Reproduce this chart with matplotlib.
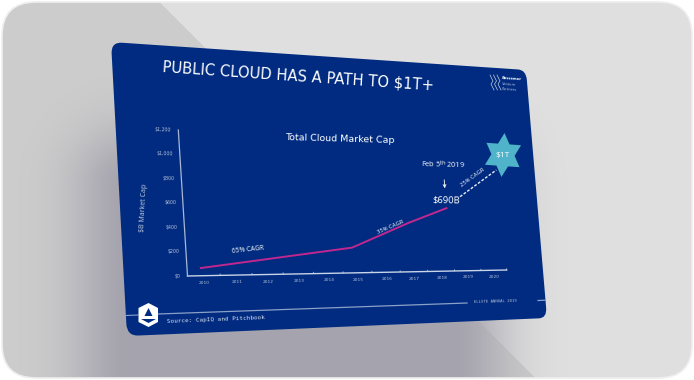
import numpy as np
import matplotlib
matplotlib.use('Agg')
import matplotlib.pyplot as plt
from matplotlib.patches import FancyBboxPatch, Polygon
from matplotlib.transforms import Transform, Affine2D
from matplotlib.path import Path

# chart data
years = [2010, 2011, 2012, 2013, 2014, 2015, 2016, 2017, 2018, 2019, 2020]
year_labels = ['2010', '2011', '2012', '2013', '2014', '2015', '2016', '2017', '2018', '2019', '2020']
line_years = [2009.92, 2014.87, 2016.93, 2018.38]
line_values = [63, 220, 437, 573]
dash_years = [2018.93, 2020.42]
dash_values = [680, 935]
y_ticks = [0, 200, 400, 600, 800, 1000, 1200]
y_labels = ['$0', '$200', '$400', '$600', '$800', '$1,000', '$1,200']

NAVY = '#002b80'
PINK = '#c0288f'
TEAL = '#4fb3c9'
DIM = '#b4c1da'


def homography(src, dst):
    a = []
    b = []
    for (x, y), (u, v) in zip(src, dst):
        a.append([x, y, 1, 0, 0, 0, -u * x, -u * y])
        a.append([0, 0, 0, x, y, 1, -v * x, -v * y])
        b += [u, v]
    h = np.linalg.solve(np.array(a, float), np.array(b, float))
    return np.append(h, 1).reshape(3, 3)


class Warp(Transform):
    input_dims = 2
    output_dims = 2

    def __init__(self, m):
        super().__init__()
        self.m = m

    def transform_non_affine(self, pts):
        pts = np.asarray(pts, float)
        p = np.c_[pts, np.ones(len(pts))] @ self.m.T
        return p[:, :2] / p[:, 2:]

    def transform_path_non_affine(self, path):
        return Path(self.transform_non_affine(path.vertices), path.codes)


fig = plt.figure(figsize=(6.94, 3.8), dpi=100)
fig.patch.set_facecolor('white')
ax = fig.add_axes([0, 0, 1, 1])
ax.axis('off')

# background card: two greys split by a diagonal, soft shadow under the slide
xx, yy = np.meshgrid(np.arange(694) + 0.5, np.arange(380) + 0.5)
left = (xx - 158) < (yy * 1.0)
bg = np.where(left[..., None], np.array([205, 205, 205.]), np.array([224, 224, 224.]))
dx = np.maximum(np.maximum(130 - xx, xx - 450), 0)
dy = np.maximum(np.maximum(185 - yy, yy - 420), 0)
d = np.hypot(dx, dy)
alpha = np.exp(-(d / 58) ** 2)[..., None]
img = bg * (1 - alpha) + np.array([165, 164, 174.]) * alpha
im = ax.imshow(img / 255, extent=(0, 694, 380, 0), aspect='auto', zorder=1)
card = FancyBboxPatch((2, 2), 690, 376, boxstyle='round,pad=0,rounding_size=34',
                      fc='none', ec='#eeeeee', lw=1.2, zorder=1.5, transform=ax.transData)
ax.add_patch(card)
im.set_clip_path(card)
ax.set_xlim(0, 694)
ax.set_ylim(380, 0)

# slide, 960x540 warped to the picture
slide_h = homography([(0, 0), (960, 0), (960, 540), (0, 540)],
                     [(111, 42), (526, 70), (547, 318), (127, 336)])
slide_tr = Warp(slide_h) + ax.transData
ax.add_patch(FancyBboxPatch((0, 0), 960, 540, boxstyle='round,pad=0,rounding_size=22',
                            fc=NAVY, ec='none', transform=slide_tr, zorder=2))

# chart area warped: data coordinates to picture pixels
chart_h = homography([(2009.5, 0), (2020.5, 0), (2020.5, 1200), (2009.5, 1200)],
                     [(187.5, 276), (506.7, 270), (496, 142), (178.3, 130)])
data_tr = Warp(chart_h) + ax.transData
to_px = Warp(chart_h)


def angle_at(x, y, dx=0.5):
    p = to_px.transform_non_affine(np.array([[x - dx, y], [x + dx, y]]))
    d = p[1] - p[0]
    return -np.degrees(np.arctan2(d[1], d[0]))


# axes
ax.plot([2009.5, 2020.5], [0, 0], color='#c8d4e8', lw=1.0, transform=data_tr, zorder=3)
ax.plot([2009.5, 2009.5], [0, 1200], color='#a8b8d4', lw=0.9, transform=data_tr, zorder=3)
for y, lab in zip(y_ticks, y_labels):
    ax.text(2009.3, y, lab, color=DIM, fontsize=3.4, ha='right', va='center',
            rotation=angle_at(2010, y), rotation_mode='anchor', transform=data_tr, zorder=4)
for yr, lab in zip(years, year_labels):
    ax.plot([yr + 0.5, yr + 0.5], [0, 12], color='#c8d4e8', lw=0.5, transform=data_tr, zorder=3)
    ax.text(yr, -60, lab, color=DIM, fontsize=3.2, ha='center', va='center',
            rotation=angle_at(yr, 0), rotation_mode='anchor', transform=data_tr, zorder=4)

# series
ax.plot(line_years, line_values, color=PINK, lw=1.4, transform=data_tr, zorder=4)
ax.plot(dash_years, dash_values, color='#e8eef8', lw=1.0, ls=(0, (2, 1.2)), transform=data_tr, zorder=4)

# star
star = Polygon([(0, -1), (0.29, -0.5), (0.866, -0.5), (0.58, 0), (0.866, 0.5), (0.29, 0.5),
                (0, 1), (-0.29, 0.5), (-0.866, 0.5), (-0.58, 0), (-0.866, -0.5), (-0.29, -0.5)],
               fc=TEAL, ec='none', zorder=4,
               transform=Affine2D().scale(20, 22).rotate_deg(4).translate(503, 155) + ax.transData)
ax.add_patch(star)

# texts
kw = dict(color='white', zorder=5, rotation_mode='anchor', ha='center', va='center')
ax.text(298, 76, 'PUBLIC CLOUD HAS A PATH TO $1T+', fontsize=10.6, rotation=-3.9,
        family='DejaVu Sans', **kw)
ax.text(340, 139.5, 'Total Cloud Market Cap', fontsize=6.8, rotation=-1.6, family='DejaVu Sans',
        fontweight='medium', **kw)
ax.text(144, 208, '$B Market Cap', fontsize=5, rotation=87, color='#c4cfe2', ha='center', va='center',
        rotation_mode='anchor', family='Open Sans', zorder=5)
ax.text(248, 250, '65% CAGR', fontsize=4.8, rotation=6, family='Open Sans', **kw)
ax.text(390, 227, '35% CAGR', fontsize=4.2, rotation=23, family='Open Sans', **kw)
ax.text(473, 177, '25% CAGR', fontsize=4.2, rotation=36, family='Open Sans', **kw)
ax.text(443, 165, 'Feb 5$^{\\mathrm{th}}$ 2019', fontsize=5.2, rotation=-1.5, family='Open Sans', **kw)
ax.text(446, 200.5, '$690B', fontsize=6.8, rotation=-1, family='Open Sans', **kw)
ax.text(503, 155, '$1T', fontsize=6, family='Open Sans', **kw)
ax.annotate('', xy=(445, 191), xytext=(444, 177), zorder=5,
            arrowprops=dict(arrowstyle='->', color='white', lw=0.6, mutation_scale=5))

# logo top right
ax.text(502, 78, 'Bessemer', fontsize=2.6, color='white', fontweight='bold', rotation=-3.8,
        ha='left', va='center', rotation_mode='anchor', zorder=5)
ax.text(502, 84, 'Venture', fontsize=2.6, color=DIM, rotation=-3.8, ha='left', va='center',
        rotation_mode='anchor', zorder=5)
ax.text(502, 89, 'Partners', fontsize=2.6, color=DIM, rotation=-3.8, ha='left', va='center',
        rotation_mode='anchor', zorder=5)
for dx in [0, 3.5, 7]:
    ax.plot([490 + dx, 493 + dx, 491 + dx, 494 + dx], [75, 81, 84, 90], color='#c4cfe2', lw=0.5, zorder=5)

# footer
ax.plot([126, 138], [315.5, 315], color='#8aa0c8', lw=0.8, zorder=3)
ax.plot([158, 467], [314, 303], color='#8aa0c8', lw=0.9, zorder=3)
ax.plot([538, 545], [300.5, 300.2], color='#8aa0c8', lw=0.9, zorder=3)
ax.text(216, 320, 'Source: CapIQ and Pitchbook', fontsize=4.3, color='#d8e0ee', rotation=2.3,
        family='DejaVu Sans Mono', ha='center', va='center', rotation_mode='anchor', zorder=5)
ax.text(495, 301, 'ELLSTE ANNUAL 2019', fontsize=2.8, color=DIM, rotation=1.5,
        family='DejaVu Sans Mono', ha='center', va='center', rotation_mode='anchor', zorder=5)
hexa = Polygon([(148.5, 303), (158, 308), (158, 322), (148.5, 327), (138.5, 322), (138.5, 308)],
               fc='white', ec='none', zorder=4)
ax.add_patch(hexa)
ax.add_patch(Polygon([(148.5, 308), (152.5, 316), (144.5, 316)], fc=NAVY, ec='none', zorder=5))
ax.add_patch(Polygon([(141, 319), (156, 319), (148.5, 323)], fc=NAVY, ec='none', zorder=5))

fig.savefig('out.png', dpi=100)
